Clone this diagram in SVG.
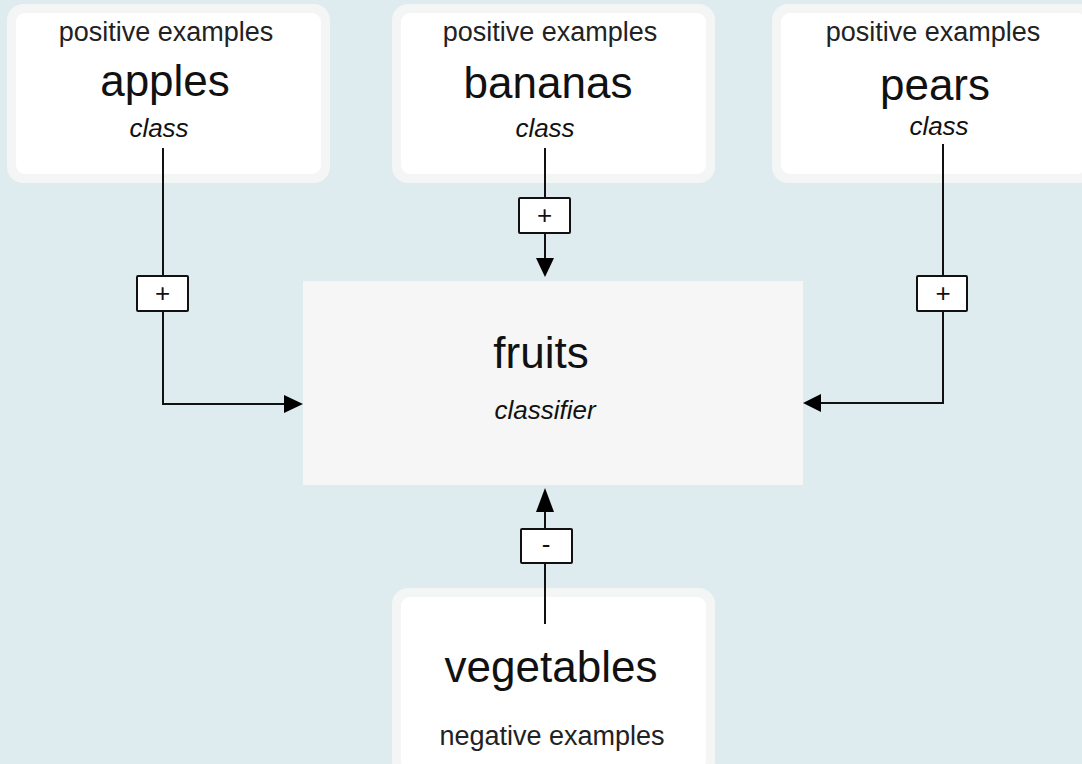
<svg xmlns="http://www.w3.org/2000/svg" width="1082" height="764" viewBox="0 0 1082 764">
<style>
.outer{fill:#f4f5f5}
.inner{fill:#ffffff}
.sm{font-family:"Liberation Sans",Arial,sans-serif;font-size:27px;fill:#222;text-anchor:middle}
.it{font-family:"Liberation Sans",Arial,sans-serif;font-size:26px;font-style:italic;fill:#111;text-anchor:middle}
.big{font-family:"Liberation Sans",Arial,sans-serif;font-size:44px;fill:#111;text-anchor:middle}
.ln{stroke:#111;stroke-width:2;fill:none}
.sign{fill:#fff;stroke:#111;stroke-width:2}
.st{font-family:"Liberation Sans",Arial,sans-serif;font-size:26px;fill:#111;text-anchor:middle}
</style>
<rect width="1082" height="764" fill="#deecef"/>

<g id="apples">
<rect class="outer" x="7" y="4" width="323" height="179" rx="16"/>
<rect class="inner" x="16" y="13" width="305" height="161" rx="9"/>
<text class="sm" x="166" y="41">positive examples</text>
<text class="big" x="165" y="96">apples</text>
<text class="it" x="159" y="137">class</text>
</g>

<g id="bananas">
<rect class="outer" x="392" y="4" width="323" height="179" rx="16"/>
<rect class="inner" x="401" y="13" width="305" height="161" rx="9"/>
<text class="sm" x="550" y="41">positive examples</text>
<text class="big" x="548" y="98">bananas</text>
<text class="it" x="545" y="137">class</text>
</g>

<g id="pears">
<rect class="outer" x="772" y="4" width="323" height="179" rx="16"/>
<rect class="inner" x="781" y="13" width="305" height="161" rx="9"/>
<text class="sm" x="933" y="41">positive examples</text>
<text class="big" x="935" y="100">pears</text>
<text class="it" x="939" y="135">class</text>
</g>

<g id="fruits">
<rect x="303" y="281" width="500" height="204" fill="#f6f6f6"/>
<text class="big" x="541" y="368">fruits</text>
<text class="it" x="545" y="419">classifier</text>
</g>

<g id="vegetables">
<rect class="outer" x="392" y="588" width="323" height="190" rx="16"/>
<rect class="inner" x="401" y="597" width="305" height="172" rx="9"/>
<text class="big" x="551" y="682">vegetables</text>
<text class="sm" x="552" y="745">negative examples</text>
</g>

<g id="connectors">
<path class="ln" d="M163,148 V404 H290"/>
<path d="M284,395 L303,404 L284,413 Z" fill="#000"/>
<rect class="sign" x="137" y="276" width="51" height="35" rx="1"/>
<text class="st" x="162.5" y="302">+</text>

<path class="ln" d="M545,148 V262"/>
<path d="M536,258 L545,277 L554,258 Z" fill="#000"/>
<rect class="sign" x="519" y="198" width="51" height="35" rx="1"/>
<text class="st" x="544.5" y="224">+</text>

<path class="ln" d="M943,144 V403 H815"/>
<path d="M821,394 L803,403 L821,412 Z" fill="#000"/>
<rect class="sign" x="917" y="276" width="50" height="35" rx="1"/>
<text class="st" x="943" y="302">+</text>

<path class="ln" d="M545,624 V500"/>
<path d="M536,512 L545,488 L554,512 Z" fill="#000"/>
<rect class="sign" x="521" y="529" width="51" height="34" rx="1"/>
<text class="st" x="546" y="553">-</text>
</g>
</svg>
